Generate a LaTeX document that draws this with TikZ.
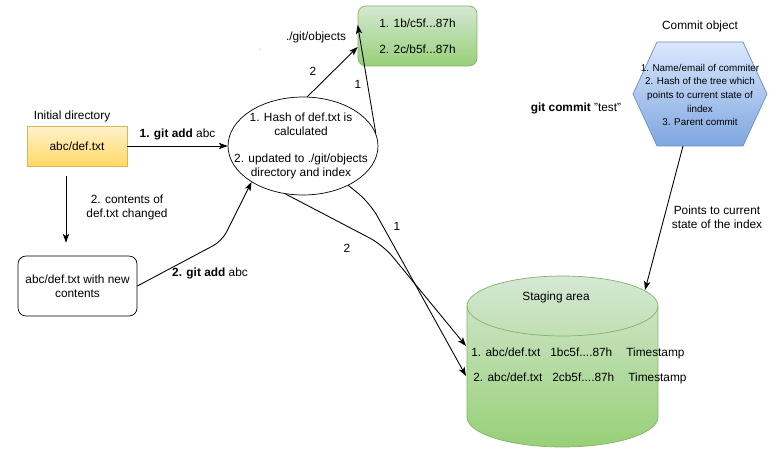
\documentclass[tikz,border=0pt]{standalone}
\usepackage{fontspec}
\setmainfont{Liberation Sans}
\usetikzlibrary{shapes.geometric, arrows.meta}

\definecolor{yellowtop}{HTML}{FFF2CC}
\definecolor{yellowbot}{HTML}{FFD966}
\definecolor{yellowline}{HTML}{D6B656}
\definecolor{greentop}{HTML}{D5E8D4}
\definecolor{greenbot}{HTML}{97D077}
\definecolor{greenline}{HTML}{82B366}
\definecolor{bluetop}{HTML}{DAE8FC}
\definecolor{bluebot}{HTML}{7EA6E0}
\definecolor{blueline}{HTML}{6C8EBF}

\begin{document}
\begin{tikzpicture}[x=0.02cm, y=0.02cm, font=\fontsize{6.75}{8}\selectfont,
  arr/.style={->, line width=0.5pt, >={Stealth[length=5pt, width=3.6pt, inset=1.2pt]}},
  txtbox/.style={draw, minimum width=2.38cm, minimum height=1.2cm, rounded corners=0.16cm, align=center, inner sep=0}]
\useasboundingbox (0,0) rectangle (783,-462);
\node (initlbl) at (72,-116) {Initial directory};
\node[draw=yellowline, top color=yellowtop, bottom color=yellowbot, minimum width=2cm, minimum height=0.8cm] (init) at (77,-146) {abc/def.txt};
\node[txtbox] (newc) at (77.5,-286) {abc/def.txt with new\\contents};
\node[draw, ellipse, minimum width=3cm, minimum height=1.96cm, inner sep=0] (hash) at (303,-146) {};
\node[align=center] (hashtxt) at (301,-146) {1. Hash of def.txt is\\calculated\\[0.26cm]2. updated to ./git/objects\\directory and index};
\node[txtbox, draw=greenline, top color=greentop, bottom color=greenbot] (objs) at (417.5,-36) {1. 1b/c5f...87h\\[0.24cm]2. 2c/b5f...87h};
\node (objlbl) at (316,-37) {./git/objects};
\node[text=black!25] (dot) at (260,-50) {.};
% Staging area:
\shade[draw=greenline, top color=greentop, bottom color=greenbot] (467,-306) arc[start angle=180, end angle=0, x radius=95.5, y radius=30] -- (658,-417) arc[start angle=0, end angle=-180, x radius=95.5, y radius=30] -- cycle;
\draw[greenline] (467,-306) arc[start angle=180, end angle=360, x radius=95.5, y radius=30];
\coordinate (stgtop) at (645,-290);
\coordinate (stgrow1) at (466,-346);
\coordinate (stgrow2) at (466,-376);
\node (stglbl) at (556,-297) {Staging area};
\node[anchor=base west, inner sep=0] (row1) at (471,-356) {1. abc/def.txt\hspace{0.2cm}1bc5f....87h\hspace{0.28cm}Timestamp};
\node[anchor=base west, inner sep=0] (row2) at (473,-381) {2. abc/def.txt\hspace{0.2cm}2cb5f....87h\hspace{0.28cm}Timestamp};
% Commit object:
\shade[draw=blueline, top color=bluetop, bottom color=bluebot] (657,-42) -- (743,-42) -- (767,-94) -- (743,-146) -- (657,-146) -- (633,-94) -- cycle;
\coordinate (hexbot) at (683,-146);
\node[align=center, font=\fontsize{5.6}{7.7}\selectfont] (committxt) at (700,-95) {1. Name/email of commiter\\2. Hash of the tree which\\points to current state of\\iindex\\3. Parent commit};
\node (commitlbl) at (700,-26) {Commit object};
\node (commitcmd) at (576,-108) {\textbf{git commit} "test"};
\draw[arr] (init) -- (hash.west) node[midway, above] {\textbf{1. git add} abc};
\draw[arr] ([shift={(-11,-10)}]init.south) -- ([shift={(-11.5,13)}]newc.north);
\node[align=center] (changed) at (127,-207) {2. contents of\\def.txt changed};
\draw[arr, rounded corners=0.2cm] (newc.east) -- (222,-241) -- (hash.215);
\node (add2) at (210,-273) {\textbf{2. git add} abc};
\draw[arr] (hash.85) -- ([shift={(0,-11)}]objs.west) node[pos=0.3, above left] {2};
\draw[arr] (hash.10) -- ([shift={(0,11)}]objs.west) node[pos=0.45, left] {1};
\draw[arr, rounded corners=0.3cm] (hash.319) -- (370,-203) -- (stgrow2);
\draw[arr, rounded corners=0.3cm] (hash.250) -- (383,-245) -- (stgrow1);
\node (lbl1) at (397,-226) {1};
\node (lbl2) at (347,-248) {2};
\draw[arr] (hexbot) -- (stgtop);
\node[align=center] (pointslbl) at (717,-217) {Points to current\\state of the index};
\end{tikzpicture}
\end{document}
